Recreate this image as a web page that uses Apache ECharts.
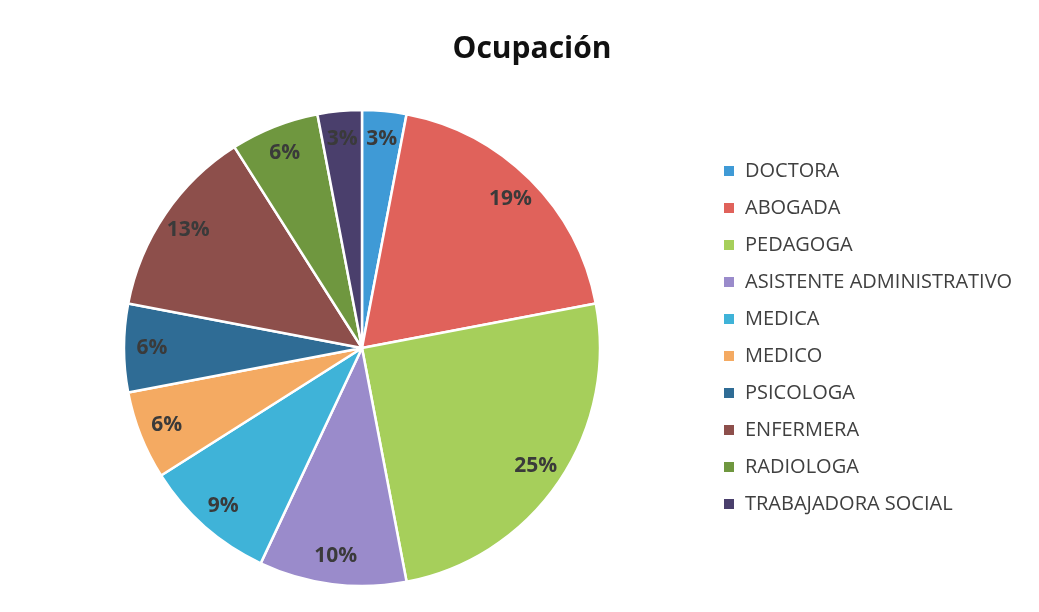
<!DOCTYPE html>
<html>
<head>
<meta charset="utf-8">
<script src="https://cdn.jsdelivr.net/npm/echarts@6/dist/echarts.min.js"></script>
<style>
  html, body { margin: 0; padding: 0; background: #fff; }
  #main { width: 1039px; height: 612px; }
</style>
</head>
<body>
<div id="main"></div>
<script>
// ocupaciones y porcentajes
const categories = [
  "DOCTORA", "ABOGADA", "PEDAGOGA", "ASISTENTE ADMINISTRATIVO", "MEDICA",
  "MEDICO", "PSICOLOGA", "ENFERMERA", "RADIOLOGA", "TRABAJADORA SOCIAL"
];
const values = [3, 19, 25, 10, 9, 6, 6, 13, 6, 3];
const colors = [
  "#3f9ad6", "#e0625b", "#a6cf5b", "#9a8bcb", "#3fb3d8",
  "#f4aa62", "#2f6c95", "#8d4f4b", "#6f973f", "#4a3f6c"
];

const myChart = echarts.init(document.getElementById("main"));

const pieData = categories.map((name, i) => ({
  name: name,
  value: values[i],
  itemStyle: { color: colors[i] },
}));

myChart.setOption({
  animation: false,
  title: {
    text: "Ocupación",
    left: 527,
    top: 29,
    textAlign: "center",
    textStyle: {
      fontFamily: "Open Sans",
      fontSize: 30,
      fontWeight: "bold",
      color: "#111",
    },
  },
  legend: {
    orient: "vertical",
    left: 722,
    top: 161,
    padding: 0,
    itemWidth: 12,
    itemHeight: 12,
    itemGap: 17,
    icon: "rect",
    data: categories,
    textStyle: {
      fontFamily: "Open Sans",
      fontSize: 20,
      lineHeight: 20,
      color: "#404040",
      padding: [0, 0, 0, 5],
    },
  },
  series: [
    {
      // las porciones
      type: "pie",
      center: [362, 348],
      radius: [0, 238],
      startAngle: 90,
      label: { show: false },
      labelLine: { show: false },
      itemStyle: { borderColor: "#fff", borderWidth: 2.5 },
      data: pieData,
    },
    {
      // anillo invisible solo para colocar las etiquetas hacia el borde
      type: "pie",
      center: [362, 348],
      radius: [176, 238],
      startAngle: 90,
      silent: true,
      itemStyle: { color: "rgba(0,0,0,0)" },
      label: {
        show: true,
        position: "inside",
        formatter: "{d}%",
        fontFamily: "Open Sans",
        fontSize: 21,
        fontWeight: "bold",
        color: "#3a3a3a",
      },
      labelLine: { show: false },
      data: categories.map((name, i) => ({ name: name, value: values[i] })),
    },
  ],
});
</script>
</body>
</html>
